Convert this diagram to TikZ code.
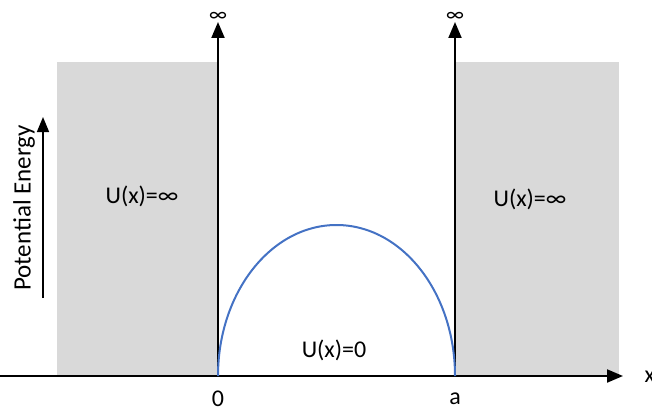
\documentclass[tikz,border=0pt]{standalone}
\usepackage{fontspec}
\setmainfont{Carlito}
\usetikzlibrary{arrows.meta}
\definecolor{wallgray}{HTML}{D9D9D9}
\definecolor{waveblue}{HTML}{4472C4}
\tikzset{
  my axis style/.style={
    -{Triangle[length=16pt,width=13pt]}, % filled arrow tip
    line width=2pt,                      % axis thickness
  },
  my label/.style={font=\fontsize{24}{28}\selectfont},
}

\begin{document}
\begin{tikzpicture}[x=1pt, y=-1pt, my label]
    \useasboundingbox (0,0) rectangle (652,412);

    % Walls of the well
    \fill[wallgray] (57,62) rectangle (218,376);
    \fill[wallgray] (455,62) rectangle (619,376);

    % Key points
    \coordinate (origin) at (218,376);
    \coordinate (wallA) at (455,376);
    \coordinate (xstart) at (0,376);
    \coordinate (xend) at (623,376);
    \coordinate (topO) at (218,22);
    \coordinate (topA) at (455,22);
    \coordinate (peLow) at (43,298);
    \coordinate (peHigh) at (43,117);

    % Axes and walls
    \draw[my axis style] (xstart) -- (xend);
    \draw[my axis style] (origin) -- (topO);
    \draw[my axis style] (wallA) -- (topA);
    \draw[-{Triangle[length=15pt,width=12pt]}, line width=1.6pt] (peLow) -- (peHigh);

    % Ground state
    \draw[waveblue, line width=2pt] (origin)
        arc[start angle=180, end angle=360, x radius=118.5, y radius=151];

    % Labels
    \node[anchor=west] (xlabel) at (641,377) {x};
    \node[above=-3pt, font=\fontsize{21}{25}\selectfont] (infO) at (topO) {∞};
    \node[above=-3pt, font=\fontsize{21}{25}\selectfont] (infA) at (topA) {∞};
    \node (zero) at (218,399) {0};
    \node (alabel) at (455,399) {a};
    \node (uleft) at (142,196) {U(x)=∞};
    \node (uright) at (530,199) {U(x)=∞};
    \node (uinside) at (334,350) {U(x)=0};
    \node[rotate=90, font=\fontsize{25}{29}\selectfont] (pelabel) at (24,208) {Potential Energy};
\end{tikzpicture}
\end{document}
